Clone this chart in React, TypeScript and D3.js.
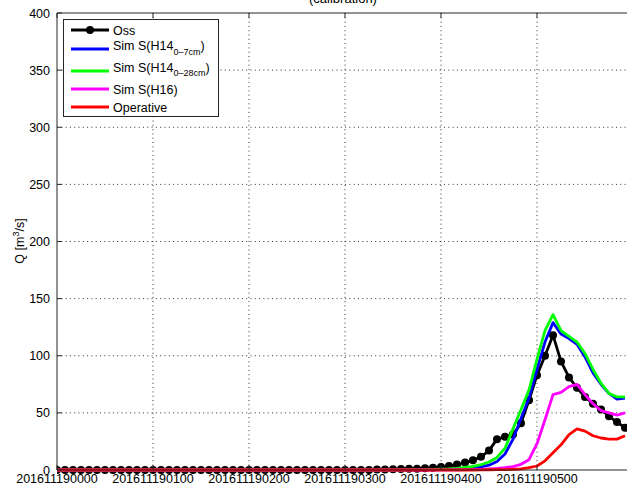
import React from "react";
import * as d3 from "d3";

// Hydrograph at the outlet, 19 Nov 2016, 5-minute steps starting 00:00
const stepMinutes = 5;

const tickMinutes = [0, 60, 120, 180, 240, 300];
const tickLabels = [
  "201611190000",
  "201611190100",
  "201611190200",
  "201611190300",
  "201611190400",
  "201611190500",
];
const yTicks = [0, 50, 100, 150, 200, 250, 300, 350, 400];

// Observed discharge (m3/s)
const oss = [
  0, 0, 0, 0, 0, 0, 0, 0, 0, 0,
  0, 0, 0, 0, 0, 0, 0, 0, 0, 0,
  0, 0, 0, 0, 0, 0, 0, 0, 0, 0,
  0, 0, 0, 0, 0, 0, 0, 0, 0, 0,
  0.4, 0.5, 0.6, 0.8, 1.0, 1.2, 1.6, 2.0,
  2.6, 3.5, 4.8, 6.5, 8.5, 11.5, 17, 27, 29, 31,
  41, 61, 83, 100, 118, 95, 81, 72, 64, 58, 53, 47, 42, 37,
];

// Simulation with soil moisture H14 (0-7 cm)
const simH14a = [
  0, 0, 0, 0, 0, 0, 0, 0, 0, 0,
  0, 0, 0, 0, 0, 0, 0, 0, 0, 0,
  0, 0, 0, 0, 0, 0, 0, 0, 0, 0,
  0, 0, 0, 0, 0, 0, 0, 0, 0, 0,
  0, 0, 0, 0, 0.1, 0.15, 0.2, 0.3,
  0.4, 0.6, 0.9, 1.3, 1.9, 2.8, 4.2, 7.5, 14, 27,
  45, 63, 88, 112, 129, 119, 115, 110, 99, 85, 75, 67, 62, 63,
];

// Simulation with soil moisture H14 (0-28 cm)
const simH14b = [
  0, 0, 0, 0, 0, 0, 0, 0, 0, 0,
  0, 0, 0, 0, 0, 0, 0, 0, 0, 0,
  0, 0, 0, 0, 0, 0, 0, 0, 0, 0,
  0, 0, 0, 0, 0, 0, 0, 0, 0, 0,
  0, 0, 0, 0, 0.2, 0.3, 0.4, 0.5,
  0.7, 1.0, 1.5, 2.2, 3.2, 4.6, 7, 11, 19, 36,
  53, 70, 97, 122, 136, 122, 117, 112, 102, 88, 76, 67, 64, 64,
];

// Simulation with soil moisture H16
const simH16 = [
  0, 0, 0, 0, 0, 0, 0, 0, 0, 0,
  0, 0, 0, 0, 0, 0, 0, 0, 0, 0,
  0, 0, 0, 0, 0, 0, 0, 0, 0, 0,
  0, 0, 0, 0, 0, 0, 0, 0, 0, 0,
  0, 0, 0, 0, 0, 0, 0, 0,
  0.1, 0.15, 0.2, 0.3, 0.4, 0.6, 0.9, 1.3, 2, 3,
  5, 9, 23, 44, 66, 68, 73, 75, 66, 58, 52, 50, 48, 50,
];

// Operative forecast chain
const operative = [
  0, 0, 0, 0, 0, 0, 0, 0, 0, 0,
  0, 0, 0, 0, 0, 0, 0, 0, 0, 0,
  0, 0, 0, 0, 0, 0, 0, 0, 0, 0,
  0, 0, 0, 0, 0, 0, 0, 0, 0, 0,
  0, 0, 0, 0, 0, 0, 0, 0,
  0, 0, 0, 0, 0, 0.1, 0.2, 0.3, 0.4, 0.5,
  1, 2, 3.5, 8, 15, 22, 31, 36, 34, 30, 28, 27, 27, 30,
];

const W = 627;
const H = 486;
const plot = { left: 57, top: 13, bottom: 470, right: 633 };

const x = d3.scaleLinear().domain([0, 360]).range([plot.left, plot.right]);
const y = d3.scaleLinear().domain([0, 400]).range([plot.bottom, plot.top]);

const toPoints = (vals: number[]) =>
  vals.map((v, i) => [i * stepMinutes, v] as [number, number]);

const line = d3
  .line<[number, number]>()
  .x((d) => x(d[0]))
  .y((d) => y(d[1]));

const series = [
  { name: "oss", values: oss, color: "#000000", markers: true },
  { name: "h14a", values: simH14a, color: "#0000ff", markers: false },
  { name: "h14b", values: simH14b, color: "#00ff00", markers: false },
  { name: "h16", values: simH16, color: "#ff00ff", markers: false },
  { name: "oper", values: operative, color: "#ff0000", markers: false },
];

const FONT = "'Liberation Sans', Arial, Helvetica, sans-serif";
const AXIS = "#262626";
const LW = 2.8;
const MR = 4;

export default function App() {
  const legendRows = [
    { color: "#000000", lineY: 30, textY: 34.5, marker: true, main: "Oss", sub: "", tail: "" },
    { color: "#0000ff", lineY: 49, textY: 50, marker: false, main: "Sim S(H14", sub: "0\u20137cm", tail: ")" },
    { color: "#00ff00", lineY: 71, textY: 71.5, marker: false, main: "Sim S(H14", sub: "0\u201328cm", tail: ")" },
    { color: "#ff00ff", lineY: 89, textY: 93.5, marker: false, main: "Sim S(H16)", sub: "", tail: "" },
    { color: "#ff0000", lineY: 107, textY: 111.5, marker: false, main: "Operative", sub: "", tail: "" },
  ];

  return (
    <svg
      width={W}
      height={H}
      style={{ position: "absolute", left: 0, top: 0, background: "#fff" }}
      fontFamily={FONT}
    >
      <defs>
        <clipPath id="plot-clip">
          <rect x={plot.left} y={plot.top - 6} width={plot.right - plot.left} height={plot.bottom - plot.top + 12} />
        </clipPath>
      </defs>
      <rect x={0} y={0} width={W} height={H} fill="#fff" />

      {/* title, mostly above the visible area */}
      <text x={343} y={3} fontSize={13} textAnchor="middle" fill="#000">
        (calibration)
      </text>

      {/* dotted grid */}
      <g stroke="#333" strokeWidth={1} strokeDasharray="1,3.3">
        {tickMinutes.slice(1).map((t) => (
          <line key={"gx" + t} x1={x(t)} x2={x(t)} y1={plot.top} y2={plot.bottom} />
        ))}
        {yTicks.slice(1, -1).map((v) => (
          <line key={"gy" + v} x1={plot.left} x2={plot.right} y1={y(v)} y2={y(v)} />
        ))}
      </g>

      {/* series */}
      <g clipPath="url(#plot-clip)">
        {series.map((s) => (
          <g key={s.name}>
            <path
              d={line(toPoints(s.values)) || ""}
              fill="none"
              stroke={s.color}
              strokeWidth={LW}
              strokeLinejoin="round"
            />
            {s.markers &&
              toPoints(s.values).map((p, i) => (
                <circle key={i} cx={x(p[0])} cy={y(p[1])} r={MR} fill={s.color} />
              ))}
          </g>
        ))}
      </g>

      {/* axes box and inward ticks */}
      <g stroke={AXIS} strokeWidth={1} fill="none">
        <line x1={plot.left} x2={plot.left} y1={plot.top} y2={plot.bottom} />
        <line x1={plot.left} x2={plot.right} y1={plot.bottom} y2={plot.bottom} />
        <line x1={plot.left} x2={plot.right} y1={plot.top} y2={plot.top} />
        {yTicks.map((v) => (
          <line key={"ty" + v} x1={plot.left} x2={plot.left + 5} y1={y(v)} y2={y(v)} />
        ))}
        {tickMinutes.map((t) => (
          <g key={"tx" + t}>
            <line x1={x(t)} x2={x(t)} y1={plot.bottom} y2={plot.bottom - 5} />
            <line x1={x(t)} x2={x(t)} y1={plot.top} y2={plot.top + 5} />
          </g>
        ))}
      </g>

      {/* y tick labels */}
      <g fontSize={12.5} fill="#000" textAnchor="end">
        {yTicks.map((v) => (
          <text key={"ly" + v} x={plot.left - 7} y={y(v) + 4.5}>
            {v}
          </text>
        ))}
      </g>

      {/* x tick labels */}
      <g fontSize={12.5} fill="#000" textAnchor="middle">
        {tickMinutes.map((t, i) => (
          <text key={"lx" + t} x={x(t)} y={plot.bottom + 13}>
            {tickLabels[i]}
          </text>
        ))}
      </g>

      {/* y axis title */}
      <text
        transform={`translate(24,241) rotate(-90)`}
        fontSize={12.5}
        textAnchor="middle"
        fill="#000"
      >
        Q [m
        <tspan fontSize={9} dy={-5}>
          3
        </tspan>
        <tspan dy={5}>/s]</tspan>
      </text>

      {/* legend */}
      <g>
        <rect x={63.5} y={19.5} width={155} height={97} fill="#fff" stroke={AXIS} strokeWidth={1} />
        {legendRows.map((r, i) => (
          <g key={"lg" + i}>
            <line x1={71} x2={109} y1={r.lineY} y2={r.lineY} stroke={r.color} strokeWidth={LW} />
            {r.marker && <circle cx={90} cy={r.lineY} r={MR} fill={r.color} />}
            <text x={113} y={r.textY} fontSize={12.5} fill="#000">
              {r.main}
              {r.sub && (
                <tspan fontSize={9} dy={4.5}>
                  {r.sub}
                </tspan>
              )}
              {r.tail && <tspan dy={-4.5}>{r.tail}</tspan>}
            </text>
          </g>
        ))}
      </g>
    </svg>
  );
}
